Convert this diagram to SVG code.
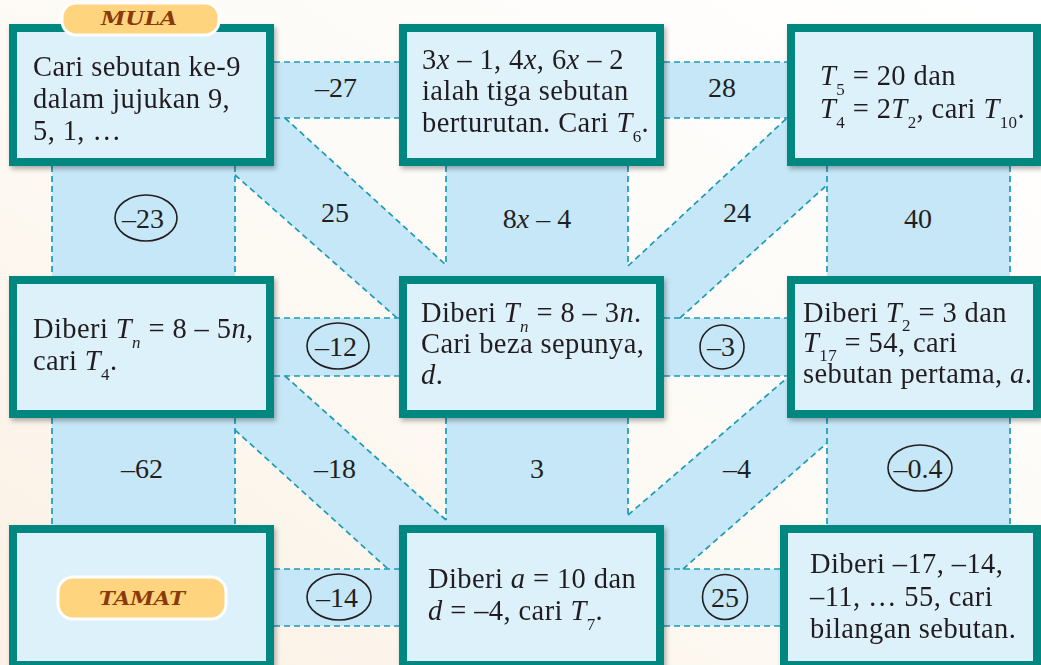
<svg xmlns="http://www.w3.org/2000/svg" width="1041" height="665" viewBox="0 0 1041 665">
<defs>
<linearGradient id="bg" x1="1" y1="0" x2="0" y2="1">
<stop offset="0" stop-color="#ffffff"/>
<stop offset="0.45" stop-color="#fdfbf7"/>
<stop offset="1" stop-color="#fcf1e4"/>
</linearGradient>
<filter id="sh" x="-5%" y="-5%" width="115%" height="120%">
<feDropShadow dx="2" dy="3" stdDeviation="2.5" flood-color="#000" flood-opacity="0.3"/>
</filter>
<style>
.strip{fill:#c6e7f7;stroke:none}
.dl{stroke:#1b9bb7;stroke-width:1.7;stroke-dasharray:6 4;fill:none}
.box{fill:#ddf1fb;stroke:#00877f;stroke-width:8}
.t{font-family:"Liberation Serif","Times New Roman",serif;font-size:28px;fill:#231f20}
.bt{font-size:28.5px;letter-spacing:0.4px}
.c{text-anchor:middle}
.i{font-style:italic}
.sub{font-size:17px}
.ring{fill:none;stroke:#231f20;stroke-width:1.6}
.tag{fill:#fed47e;stroke:#ffffff;stroke-width:3}
.tagt{font-family:"DejaVu Serif",serif;font-weight:bold;font-style:italic;font-size:18px;fill:#8a3a0a;text-anchor:middle}
</style>
</defs>
<rect x="0" y="0" width="1041" height="665" fill="url(#bg)"/>

<g id="connectors">
<rect class="strip" x="274" y="62" width="125" height="56"/>
<rect class="strip" x="664" y="62" width="123" height="56"/>
<rect class="strip" x="274" y="318" width="125" height="58"/>
<rect class="strip" x="664" y="318" width="123" height="58"/>
<rect class="strip" x="274" y="569" width="125" height="57"/>
<rect class="strip" x="664" y="569" width="116" height="57"/>
<rect class="strip" x="52" y="166" width="183" height="110"/>
<rect class="strip" x="446" y="166" width="182" height="110"/>
<rect class="strip" x="827" y="166" width="183" height="110"/>
<rect class="strip" x="52" y="418" width="183" height="107"/>
<rect class="strip" x="446" y="418" width="182" height="107"/>
<rect class="strip" x="827" y="418" width="183" height="107"/>
<polygon class="strip" points="285,118 446,265 446,318 397,318 235,175 235,118"/>
<polygon class="strip" points="628,266 787,118 827,118 827,185 680,318 628,318"/>
<polygon class="strip" points="285,376 446,520 446,569 388,569 235,430 235,376"/>
<polygon class="strip" points="628,515 787,378 827,376 827,443 683,569 628,569"/>
<path class="dl" d="M274,62H399M274,118H399M664,62H787M664,118H787M274,318H399M274,376H399M664,318H787M664,376H787M274,569H399M274,626H399M664,569H780M664,626H780"/>
<path class="dl" d="M52,166V276M235,166V276M52,418V525M235,418V525M446,166V265M628,166V266M446,418V520M628,418V515M827,166V276M1010,166V276M827,418V525M1010,418V525"/>
<path class="dl" d="M285,118L446,265M235,175L397,318M628,266L787,118M680,318L827,185M285,376L446,520M235,430L388,569M628,515L787,378M683,569L827,443"/>
<text class="t c" x="336" y="97">–27</text>
<text class="t c" x="722" y="97">28</text>
<ellipse class="ring" cx="146" cy="218" rx="31" ry="23"/>
<text class="t c" x="143" y="228">–23</text>
<text class="t c" x="335" y="222">25</text>
<text class="t c" x="537" y="228">8<tspan class="i">x</tspan> – 4</text>
<text class="t c" x="737" y="222">24</text>
<text class="t c" x="918" y="228">40</text>
<ellipse class="ring" cx="338" cy="346" rx="31" ry="23"/>
<text class="t c" x="336" y="356">–12</text>
<circle class="ring" cx="722" cy="347" r="22"/>
<text class="t c" x="721" y="356">–3</text>
<text class="t c" x="142" y="478">–62</text>
<text class="t c" x="335" y="478">–18</text>
<text class="t c" x="537" y="478">3</text>
<text class="t c" x="737" y="478">–4</text>
<ellipse class="ring" cx="920" cy="468" rx="32" ry="23"/>
<text class="t c" x="918" y="478">–0.4</text>
<ellipse class="ring" cx="339" cy="597" rx="32" ry="23"/>
<text class="t c" x="337" y="607">–14</text>
<circle class="ring" cx="725" cy="597" r="22.5"/>
<text class="t c" x="725" y="607">25</text>
</g>

<g id="node-a" filter="url(#sh)">
<rect class="box" x="13" y="28" width="257" height="134"/>
<text class="t bt" x="33" y="76">Cari sebutan ke-9</text>
<text class="t bt" x="33" y="108">dalam jujukan 9,</text>
<text class="t bt" x="33" y="140">5, 1, …</text>
</g>
<g id="node-b" filter="url(#sh)">
<rect class="box" x="403" y="28" width="257" height="134"/>
<text class="t bt" x="422" y="69">3<tspan class="i">x</tspan> – 1, 4<tspan class="i">x</tspan>, 6<tspan class="i">x</tspan> – 2</text>
<text class="t bt" x="422" y="100">ialah tiga sebutan</text>
<text class="t bt" x="422" y="132">berturutan. Cari <tspan class="i">T</tspan><tspan class="sub" dy="10">6</tspan><tspan dy="-10">.</tspan></text>
</g>
<g id="node-c" filter="url(#sh)">
<rect class="box" x="791" y="28" width="246" height="134"/>
<text class="t bt" x="820" y="85"><tspan class="i">T</tspan><tspan class="sub" dy="10">5</tspan><tspan dy="-10"> = 20 dan</tspan></text>
<text class="t bt" x="820" y="118"><tspan class="i">T</tspan><tspan class="sub" dy="10">4</tspan><tspan dy="-10"> = 2</tspan><tspan class="i">T</tspan><tspan class="sub" dy="10">2</tspan><tspan dy="-10">, cari </tspan><tspan class="i">T</tspan><tspan class="sub" dy="10">10</tspan><tspan dy="-10">.</tspan></text>
</g>
<g id="node-d" filter="url(#sh)">
<rect class="box" x="13" y="280" width="257" height="134"/>
<text class="t bt" x="33" y="338">Diberi <tspan class="i">T</tspan><tspan class="sub i" dy="10">n</tspan><tspan dy="-10"> = 8 – 5</tspan><tspan class="i">n</tspan>,</text>
<text class="t bt" x="33" y="370">cari <tspan class="i">T</tspan><tspan class="sub" dy="10">4</tspan><tspan dy="-10">.</tspan></text>
</g>
<g id="node-e" filter="url(#sh)">
<rect class="box" x="403" y="280" width="257" height="134"/>
<text class="t bt" x="421" y="322">Diberi <tspan class="i">T</tspan><tspan class="sub i" dy="10">n</tspan><tspan dy="-10"> = 8 – 3</tspan><tspan class="i">n</tspan>.</text>
<text class="t bt" x="421" y="353">Cari beza sepunya,</text>
<text class="t bt" x="421" y="384"><tspan class="i">d</tspan>.</text>
</g>
<g id="node-f" filter="url(#sh)">
<rect class="box" x="791" y="280" width="246" height="134"/>
<text class="t bt" x="803" y="322">Diberi <tspan class="i">T</tspan><tspan class="sub" dy="9">2</tspan><tspan dy="-9"> = 3 dan</tspan></text>
<text class="t bt" x="803" y="352"><tspan class="i">T</tspan><tspan class="sub" dy="9">17</tspan><tspan dy="-9"> = 54, cari</tspan></text>
<text class="t bt" x="803" y="383">sebutan pertama, <tspan class="i">a</tspan>.</text>
</g>
<g id="node-g" filter="url(#sh)">
<rect class="box" x="13" y="529" width="257" height="136"/>
</g>
<g id="node-h" filter="url(#sh)">
<rect class="box" x="403" y="529" width="257" height="136"/>
<text class="t bt" x="428" y="588">Diberi <tspan class="i">a</tspan> = 10 dan</text>
<text class="t bt" x="428" y="620"><tspan class="i">d</tspan> = –4, cari <tspan class="i">T</tspan><tspan class="sub" dy="10">7</tspan><tspan dy="-10">.</tspan></text>
</g>
<g id="node-i" filter="url(#sh)">
<rect class="box" x="784" y="529" width="253" height="136"/>
<text class="t bt" x="810" y="573">Diberi –17, –14,</text>
<text class="t bt" x="810" y="606">–11, … 55, cari</text>
<text class="t bt" x="810" y="638">bilangan sebutan.</text>
</g>

<g id="tag-mula">
<rect class="tag" x="62" y="3" width="157" height="32" rx="14"/>
<text class="tagt" x="139" y="25" textLength="76" lengthAdjust="spacingAndGlyphs">MULA</text>
</g>
<g id="tag-tamat">
<rect class="tag" x="58" y="577" width="168" height="42" rx="15"/>
<text class="tagt" x="142" y="605" textLength="86" lengthAdjust="spacingAndGlyphs">TAMAT</text>
</g>
</svg>
